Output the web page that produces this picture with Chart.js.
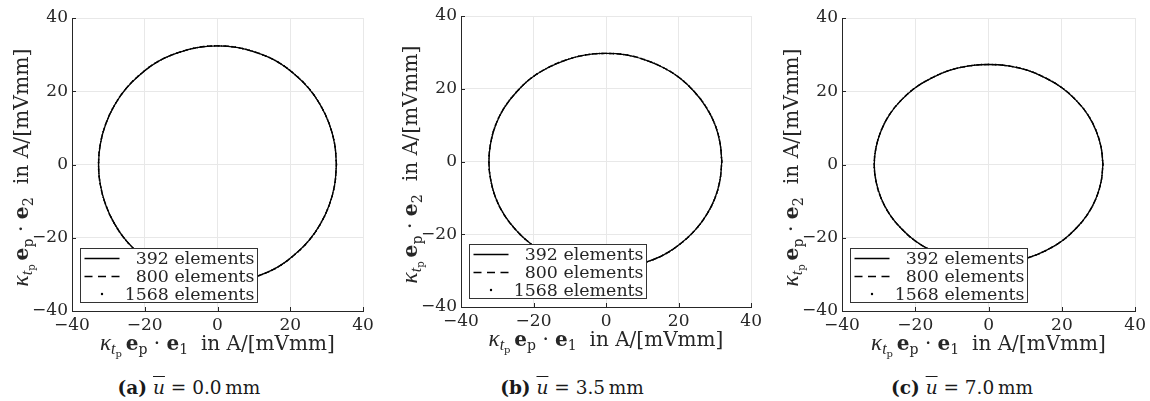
<!DOCTYPE html>
<html>
<head>
<meta charset="utf-8">
<script src="https://cdn.jsdelivr.net/npm/chart.js@4.4.0/dist/chart.umd.min.js"></script>
<style>
html,body{margin:0;padding:0;background:#fff;}
body{width:1150px;height:401px;position:relative;overflow:hidden;font-family:"DejaVu Serif",serif;}
.panel{position:absolute;top:0;width:383px;height:360px;}
.cap{position:absolute;top:377px;font-size:18.5px;line-height:22px;color:#1a1a1a;white-space:nowrap;transform:translateX(-50%);}
.ov{font-style:italic;text-decoration:overline;}
</style>
</head>
<body>
<div class="panel" style="left:0px"><canvas id="c0" width="383" height="360"></canvas></div>
<div class="panel" style="left:383px"><canvas id="c1" width="383" height="360"></canvas></div>
<div class="panel" style="left:767px"><canvas id="c2" width="383" height="360"></canvas></div>
<div class="cap" style="left:189px"><b>(a)</b> <span class="ov">u</span> = 0.0&thinsp;mm</div>
<div class="cap" style="left:572px"><b>(b)</b> <span class="ov">u</span> = 3.5&thinsp;mm</div>
<div class="cap" style="left:962px"><b>(c)</b> <span class="ov">u</span> = 7.0&thinsp;mm</div>
<script>
// ---- data ----
const tickValues = [-40, -20, 0, 20, 40];
const seriesLabels = ['392 elements', '800 elements', '1568 elements'];

// (a) u = 0.0 mm
const a_x = [32.7,32.2,30.7,28.3,25.1,21.0,16.4,11.2,5.7,0.0,-5.7,-11.2,-16.4,-21.0,-25.1,-28.3,-30.7,-32.2,-32.7,-32.2,-30.7,-28.3,-25.1,-21.0,-16.4,-11.2,-5.7,0.0,5.7,11.2,16.4,21.0,25.1,28.3,30.7,32.2,32.7];
const a_y = [0.0,5.6,11.1,16.2,20.8,24.8,28.1,30.4,31.9,32.4,31.9,30.4,28.1,24.8,20.8,16.2,11.1,5.6,0.0,-5.6,-11.1,-16.2,-20.8,-24.8,-28.1,-30.4,-31.9,-32.4,-31.9,-30.4,-28.1,-24.8,-20.8,-16.2,-11.1,-5.6,0.0];
// (b) u = 3.5 mm
const b_x = [31.9,31.4,30.0,27.6,24.4,20.5,16.0,10.9,5.5,0.0,-5.6,-11.1,-16.2,-20.8,-24.7,-28.0,-30.4,-31.8,-32.3,-31.8,-30.4,-28.0,-24.7,-20.8,-16.2,-11.1,-5.6,0.0,5.5,10.9,16.0,20.5,24.4,27.6,30.0,31.4,31.9];
const b_y = [0.0,5.2,10.2,14.9,19.1,22.8,25.7,27.9,29.3,29.7,29.3,27.9,25.7,22.8,19.1,14.9,10.2,5.2,0.0,-5.1,-10.1,-14.8,-19.0,-22.6,-25.6,-27.7,-29.1,-29.5,-29.1,-27.7,-25.6,-22.6,-19.0,-14.8,-10.1,-5.1,0.0];
// (c) u = 7.0 mm
const c_x = [31.2,30.7,29.3,27.0,23.9,20.1,15.6,10.7,5.4,0.0,-5.4,-10.7,-15.6,-20.1,-23.9,-27.0,-29.3,-30.7,-31.2,-30.7,-29.3,-27.0,-23.9,-20.1,-15.6,-10.7,-5.4,0.0,5.4,10.7,15.6,20.1,23.9,27.0,29.3,30.7,31.2];
const c_y = [0.0,4.7,9.3,13.7,17.5,20.9,23.6,25.7,26.9,27.3,26.9,25.7,23.6,20.9,17.5,13.7,9.3,4.7,0.0,-4.7,-9.3,-13.6,-17.4,-20.8,-23.5,-25.5,-26.7,-27.1,-26.7,-25.5,-23.5,-20.8,-17.4,-13.6,-9.3,-4.7,0.0];

// ---- layout (panel-relative plot rectangles) ----
const panels = [
  {id:'c0', L:72, R:363, T:18, B:311, xs:a_x, ys:a_y},
  {id:'c1', L:78, R:369, T:16, B:307, xs:b_x, ys:b_y},
  {id:'c2', L:75, R:369, T:18, B:311, xs:c_x, ys:c_y}
];
const W = 383, H = 360;
const FAM = '"DejaVu Serif", serif';
const FAM2 = '"Liberation Serif", serif';
const INK = '#262626';

function fmt(v){ return v < 0 ? '\u2212' + Math.abs(v) : String(v); }

function titleSegs(idx){
  return [
    {t:'\u03BA', it:1, sz:1.15, f:FAM2},
    {t:'t', it:1, sz:0.8, dy:0.2, f:FAM2},
    {t:'p', sz:0.5, dy:0.36},
    {t:' ', sz:0.6},
    {t:'e', b:1, sz:1},
    {t:'p', sz:0.7, dy:0.22},
    {t:' \u00B7 ', sz:1},
    {t:'e', b:1, sz:1},
    {t:idx, sz:0.7, dy:0.22},
    {t:'  in A/[mVmm]', sz:1}
  ];
}

function fontOf(s, size){ return (s.it?'italic ':'') + (s.b?'bold ':'') + size + 'px ' + (s.f || FAM); }

function drawRich(ctx, segs, targetW, cx, cy, rot){
  const base = 20;
  let w = 0;
  for (const s of segs){ ctx.font = fontOf(s, base*s.sz); w += ctx.measureText(s.t).width; }
  const S = base * targetW / w;
  ctx.save();
  ctx.translate(cx, cy);
  if (rot) ctx.rotate(-Math.PI/2);
  ctx.fillStyle = INK; ctx.textAlign = 'left'; ctx.textBaseline = 'alphabetic';
  let x = -targetW/2;
  const by = S*0.3;
  for (const s of segs){
    ctx.font = fontOf(s, S*s.sz);
    ctx.fillText(s.t, x, by + (s.dy||0)*S);
    x += ctx.measureText(s.t).width;
  }
  ctx.restore();
}

const decor = {
  id:'decor',
  afterDraw(chart){
    const ctx = chart.ctx, a = chart.chartArea;
    const xs = chart.scales.x, ys = chart.scales.y;
    // inward tick marks
    ctx.save();
    ctx.strokeStyle = '#262626'; ctx.lineWidth = 1;
    ctx.beginPath();
    for (const v of tickValues){
      const px = Math.round(xs.getPixelForValue(v)) + 0.5;
      ctx.moveTo(px, a.bottom); ctx.lineTo(px, a.bottom - 4);
      const py = Math.round(ys.getPixelForValue(v)) + 0.5;
      ctx.moveTo(a.left, py); ctx.lineTo(a.left + 4, py);
    }
    ctx.stroke();
    ctx.restore();
    // legend box
    const lx = Math.round(a.left + 8) + 0.5, lw = 177, lh = 54;
    const ly = Math.round(a.bottom - 9 - lh) + 0.5;
    ctx.save();
    ctx.fillStyle = '#fff'; ctx.fillRect(lx, ly, lw, lh);
    ctx.strokeStyle = '#333'; ctx.lineWidth = 1; ctx.strokeRect(lx, ly, lw, lh);
    const rows = [ly + 10, ly + 28, ly + 45.5];
    ctx.strokeStyle = '#000'; ctx.lineWidth = 1.3;
    ctx.beginPath(); ctx.moveTo(lx + 4, rows[0]); ctx.lineTo(lx + 39, rows[0]); ctx.stroke();
    ctx.setLineDash([8, 5.5]);
    ctx.beginPath(); ctx.moveTo(lx + 4, rows[1]); ctx.lineTo(lx + 39, rows[1]); ctx.stroke();
    ctx.setLineDash([]);
    ctx.fillStyle = '#000';
    ctx.beginPath(); ctx.arc(lx + 21.5, rows[2], 1.2, 0, Math.PI*2); ctx.fill();
    ctx.font = '17.4px ' + FAM; ctx.fillStyle = INK;
    ctx.textAlign = 'right'; ctx.textBaseline = 'middle';
    seriesLabels.forEach((t, i) => ctx.fillText(t, lx + lw - 3, rows[i] + 1));
    ctx.restore();
    // axis titles
    drawRich(ctx, titleSegs('1'), 235, (a.left + a.right)/2, a.bottom + 33, false);
    drawRich(ctx, titleSegs('2'), 238, a.left - 50, (a.top + a.bottom)/2 + 3, true);
  }
};

panels.forEach(p => {
  const pts = p.xs.map((x, i) => ({x: x, y: p.ys[i]}));
  const common = {data: pts, showLine: true, pointRadius: 0, tension: 0.4, borderColor: '#000', backgroundColor: '#000', fill: false};
  new Chart(document.getElementById(p.id), {
    type: 'scatter',
    data: {
      datasets: [
        Object.assign({}, common, {label: seriesLabels[0], borderWidth: 1.3}),
        Object.assign({}, common, {label: seriesLabels[1], borderWidth: 1.3, borderDash: [5, 3]}),
        Object.assign({}, common, {label: seriesLabels[2], borderWidth: 1.6, borderDash: [1, 2.5]})
      ]
    },
    options: {
      responsive: false,
      animation: false,
      events: [],
      layout: {padding: {left: 0, top: p.T, right: W - p.R, bottom: 0}},
      plugins: {legend: {display: false}, tooltip: {enabled: false}},
      scales: {
        x: {
          type: 'linear', min: -40, max: 40,
          afterFit(s){ s.height = H - p.B; },
          afterBuildTicks(s){ s.ticks = tickValues.map(v => ({value: v})); },
          grid: {color: '#e8e8e8', lineWidth: 1, drawTicks: false},
          border: {display: true, color: '#262626', width: 1},
          ticks: {font: {family: FAM, size: 17}, color: INK, padding: 4, maxRotation: 0, autoSkip: false, callback: v => fmt(v)}
        },
        y: {
          type: 'linear', min: -40, max: 40,
          afterFit(s){ s.width = p.L; },
          afterBuildTicks(s){ s.ticks = tickValues.map(v => ({value: v})); },
          grid: {color: '#e8e8e8', lineWidth: 1, drawTicks: false},
          border: {display: true, color: '#262626', width: 1},
          ticks: {font: {family: FAM, size: 17}, color: INK, padding: 4, autoSkip: false, callback: v => fmt(v)}
        }
      }
    },
    plugins: [decor]
  });
});
</script>
</body>
</html>
